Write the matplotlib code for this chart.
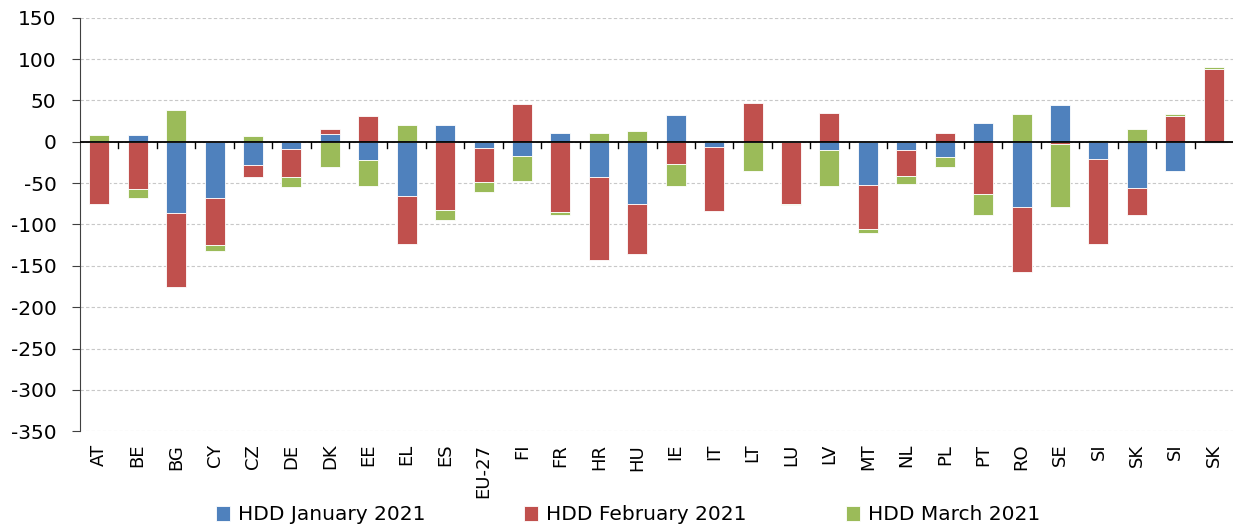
import numpy as np
import matplotlib.pyplot as plt

plt.rcParams["axes.unicode_minus"] = False

# HDD deviations per country, stacked Excel-style (positives up, negatives down)
countries = ["AT", "BE", "BG", "CY", "CZ", "DE", "DK", "EE", "EL", "ES", "EU-27",
             "FI", "FR", "HR", "HU", "IE", "IT", "LT", "LU", "LV", "MT", "NL",
             "PL", "PT", "RO", "SE", "SI", "SK", "SI", "SK"]
jan = [0, 8, -86, -68, -28, -9, 10, -22, -66, 20, -8,
       -17, 11, -43, -75, 32, -6, 0, 0, -10, -52, -10,
       -19, 23, -79, 44, -21, -56, -35, -2]
feb = [-75, -57, -90, -57, -14, -34, 5, 31, -58, -83, -41,
       46, -85, -100, -61, -27, -78, 47, -75, 35, -54, -31,
       11, -63, -79, -3, -103, -32, 31, 88.5]
mar = [8, -11, 39, -7, 7, -12, -30, -31, 20, -11, -12,
       -31, -3, 11, 13, -26, 2, -35, -2, -43, -4, -10,
       -12, -25, 33, -76, 2, 16, 2, 1.5]

series = [("HDD January 2021", jan, "#4F81BD"),
          ("HDD February 2021", feb, "#C0504D"),
          ("HDD March 2021", mar, "#9BBB59")]

fig = plt.figure(figsize=(12.33, 5.27), dpi=100)
ax = fig.add_axes([80/1233, 1 - 431.3/527, 1 - 80/1233, (431.3 - 17.7)/527])

x = np.arange(len(countries))
pos_base = np.zeros(len(x))
neg_base = np.zeros(len(x))
for name, vals, col in series:
    v = np.array(vals, dtype=float)
    base = np.where(v >= 0, pos_base, neg_base)
    ax.bar(x, v, 0.52, bottom=base, color=col, label=name,
           edgecolor="white", linewidth=0.6, zorder=3)
    pos_base += np.where(v >= 0, v, 0)
    neg_base += np.where(v < 0, v, 0)

ax.set_xlim(-0.5, len(x) - 0.5)
ax.set_ylim(-350, 150)
ax.set_yticks(np.arange(-350, 151, 50))
ax.yaxis.grid(True, linestyle=(0, (3, 2)), color="#c8c8c8", linewidth=0.8, zorder=0)
ax.axhline(0, color="black", linewidth=1.3, zorder=4)

# little tick marks between categories along the zero line
for b in x[:-1] + 0.5:
    ax.plot([b, b], [0, -8], color="black", linewidth=1, zorder=4)

ax.set_xticks(x)
ax.set_xticklabels(countries, rotation=90, fontsize=13)
ax.tick_params(axis="x", length=0, pad=9)
ax.tick_params(axis="y", labelsize=14.5, length=6, color="#404040", pad=11)

for s in ["top", "right", "bottom"]:
    ax.spines[s].set_visible(False)
ax.spines["left"].set_color("#404040")

fig.legend(loc="center", bbox_to_anchor=(628/1233, 1 - 515/527), ncol=3,
           frameon=False, fontsize=14.5, handlelength=0.7, handleheight=0.7,
           handletextpad=0.4, columnspacing=4.9)

fig.savefig("out.png", dpi=100)
